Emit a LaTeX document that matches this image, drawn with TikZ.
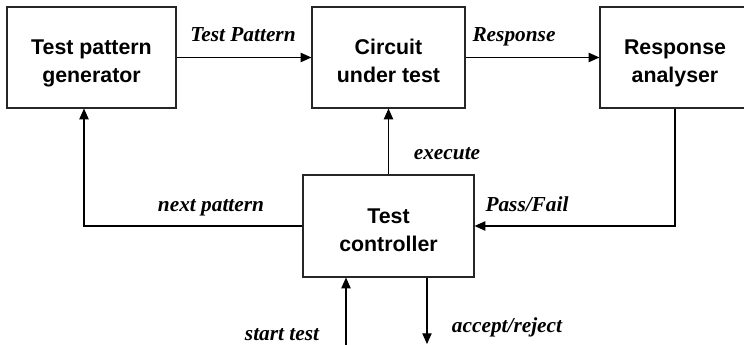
\documentclass[tikz,border=0pt]{standalone}
\usepackage{fontspec}
\setmainfont{Liberation Serif}
\newfontfamily\boxfont{Liberation Sans}
\usetikzlibrary{arrows.meta}
\tikzset{
  blk/.style={draw=black!85, line width=0.9pt, minimum height=75.75pt, inner sep=0pt},
  blktext/.style={align=center, anchor=base, inner sep=0pt,
    font=\boxfont\bfseries\fontsize{16}{21}\selectfont},
  conn/.style={line width=0.8pt, -{Triangle[length=8pt,width=7pt]}},
  lbl/.style={font=\bfseries\itshape\fontsize{16}{18}\selectfont, anchor=base, inner sep=0pt}
}
\begin{document}
\begin{tikzpicture}[x=0.75pt,y=-0.75pt]
\useasboundingbox (0,0) rectangle (744,345);
\clip (0,0) rectangle (744,345);
\node[blk, minimum width=126.75pt] (b1) at (91.5,57.5) {};
\node[blk, minimum width=114.75pt] (b2) at (388.5,57.5) {};
\node[blk, minimum width=112.5pt] (b3) at (675,57.5) {};
\node[blk, minimum width=128.25pt, minimum height=76.5pt] (b4) at (388.5,226) {};
\node[blktext] (t1) at (91.5,83) {Test pattern\\generator};
\node[blktext] (t2) at (388.5,83) {Circuit\\under test};
\node[blktext] (t3) at (675,83) {Response\\analyser};
\node[blktext] (t4) at (388.5,252) {Test\\controller};
\coordinate (np) at (84,0);
\coordinate (st) at (346,346);
\coordinate (ar) at (427,344);
\draw[conn] (b1) -- (b2);
\draw[conn] (b2) -- (b3);
\draw[conn] (b4) -- (b2);
\draw[conn] (b4.west) -| (b1.south -| np);
\draw[conn] (b3.south) |- (b4.east);
\draw[conn] (st) -- (st |- b4.south);
\draw[conn] (ar |- b4.south) -- (ar);
\node[lbl] (l1) at (243,42) {Test Pattern};
\node[lbl] (l2) at (514,42) {Response};
\node[lbl] (l3) at (447,160) {execute};
\node[lbl] (l4) at (211,212) {next pattern};
\node[lbl] (l5) at (527,212) {Pass/Fail};
\node[lbl] (l6) at (282,341) {start test};
\node[lbl] (l7) at (507,333) {accept/reject};
\end{tikzpicture}
\end{document}
